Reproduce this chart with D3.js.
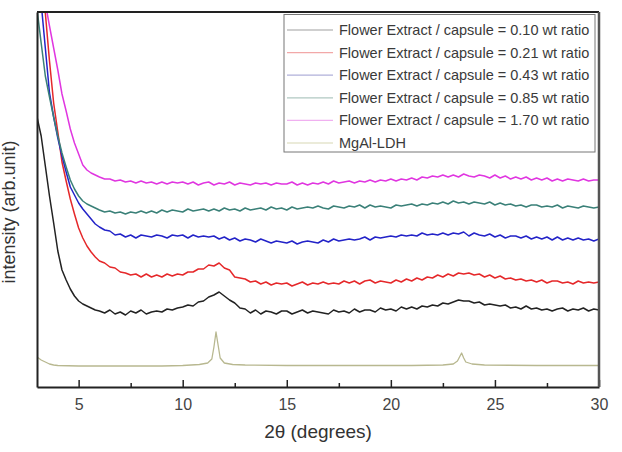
<!DOCTYPE html>
<html><head><meta charset="utf-8">
<script src="https://cdn.jsdelivr.net/npm/d3@7"></script>
<style>body{margin:0;background:#fff}svg{display:block}text{font-family:"Liberation Sans",Arial,sans-serif}</style>
</head><body><svg id="c" width="622" height="452"></svg>
<script>
const twoTheta = [3.0,3.2,3.4,3.6,3.8,4.0,4.2,4.4,4.6,4.8,5.0,5.2,5.4,5.6,5.8,
6,6.25,6.5,6.75,7,7.25,7.5,7.75,8,8.25,8.5,8.75,9,9.25,9.5,9.75,10,10.25,10.5,10.75,
11,11.25,11.5,11.75,12,12.25,12.5,12.75,13,13.25,13.5,13.75,14,14.25,14.5,14.75,
15,15.25,15.5,15.75,16,16.25,16.5,16.75,17,17.25,17.5,17.75,18,18.25,18.5,18.75,
19,19.25,19.5,19.75,20,20.25,20.5,20.75,21,21.25,21.5,21.75,22,22.25,22.5,22.75,
23,23.25,23.5,23.75,24,24.25,24.5,24.75,25,25.25,25.5,25.75,26,26.25,26.5,26.75,
27,27.25,27.5,27.75,28,28.25,28.5,28.75,29,29.25,29.5,29.75,30];

const ratio010 = [270,251,221,191,164,136,117,107,98,91,86,83,81,79,77,
76,74,77,73, 75,72,76,74, 77,73,75,76, 75,78,77,79, 80,82,81,85, 86,90,92,95,
91,87,84,79, 78,74,77,73, 76,75,73,76, 76,73,75,77, 74,76,75,74, 73,77,75,76,
74,78,75,77, 77,75,79,77, 78,76,80,78, 80,78,81,80, 82,81,84,83, 85,87,86,86,
84,85,82,83, 82,81,82,79, 80,78,81,78, 79,77,78,76, 78,79,76,78, 77,79,76,78, 77];

const ratio021 = [420,400,374,326,284,255,225,206,188,173,159,149,141,135,130,
126,124,120,119, 115,114,112,113, 110,113,110,112, 110,113,111,113, 112,115,115,118,
118,122,121,124, 119,117,110,109, 108,105,106,103, 105,102,104,103, 104,101,103,105,
102,104,103,105, 103,104,103,106, 104,106,103,106, 107,104,106,105, 104,107,105,108,
106,109,107,110, 109,112,110,113, 111,114,113,114, 112,113,110,112, 109,111,108,109,
107,108,106,107, 105,107,104,106, 106,104,105,103, 106,104,105,104, 105];

const ratio043 = [429,384,339,294,270,249,231,215,200,192,184,178,173,168,163,
160,157,156,152, 153,150,152,149, 152,151,150,152, 151,149,152,151, 152,149,152,150,
151,150,151,148, 150,147,149,146, 148,147,145,148, 146,144,146,145, 144,146,143,145,
146,145,144,147, 145,148,146,147, 148,147,148,150, 147,150,149,150, 151,150,152,151,
152,151,154,152, 153,152,154,152, 154,153,155,151, 154,152,151,153, 150,152,149,151,
151,149,151,148, 150,148,150,147, 150,147,149,147, 149,147,148,146, 148];

const ratio085 = [378,344,311,290,270,251,234,220,207,198,191,186,183,181,179,
177,175,176,174, 175,173,175,174, 176,174,176,174, 177,175,177,176, 175,178,176,177,
178,176,178,176, 179,177,178,176, 179,177,178,179, 177,180,178,179, 177,180,178,179,
180,179,181,179, 178,181,180,179, 181,180,182,179, 182,180,181,180, 179,182,181,182,
183,181,183,182, 184,183,185,183, 186,184,185,183, 185,184,183,185, 182,184,182,183,
181,182,180,182, 182,180,181,180, 182,179,181,180, 179,181,180,179, 180];

const ratio170 = [429,406,384,361,339,317,293,276,258,244,233,222,217,214,212,
210,208,208,206, 207,205,206,204, 206,204,205,203, 205,203,205,204, 205,203,205,202,
204,205,202,204, 203,205,202,204, 203,202,204,203, 204,202,204,203, 203,205,202,204,
202,204,203,205, 203,206,204,205, 206,204,206,205, 207,205,207,206, 208,206,208,207,
209,207,210,209, 211,210,212,210, 212,210,213,211, 210,212,211,209, 212,209,211,208,
210,208,210,207, 209,207,209,206, 208,206,208,207, 206,208,206,207, 207];

const ldhTheta = [3.0,3.2,3.4,3.6,3.8,4.0,5,7,9,10,10.8,11.2,11.4,11.5,11.6,11.7,11.8,12.0,12.4,13,15,18,21,22.5,23.0,23.2,23.3,23.4,23.5,23.6,23.9,24.5,27,30];
const ldhValues = [30,27,25,23,22,21.5,21,21,21,21.5,22.5,24,28,40,55,42,29,24,22.5,22,21.5,21.5,21.5,22,23,26,30,34,29,25,23,22,21.5,21.5];

const seriesNames = ["Flower Extract / capsule = 0.10 wt ratio","Flower Extract / capsule = 0.21 wt ratio",
"Flower Extract / capsule = 0.43 wt ratio","Flower Extract / capsule = 0.85 wt ratio",
"Flower Extract / capsule = 1.70 wt ratio","MgAl-LDH"];
const seriesColors = ["#222222","#e5282a","#2323c8","#3a8078","#e036e0","#b8b890"];
const legendColors = ["#a0a0a0","#f2a8a8","#b0b0da","#b0c8c2","#f0b0f0","#d8d8b4"];
const majorTicks = [5,10,15,20,25,30];
const minorTicks = [7.5,12.5,17.5,22.5,27.5];

const svg = d3.select("#c");
const L=37,R=599,T=12,B=387;
const x = d3.scaleLinear().domain([3,30]).range([L,R]);
const y = d3.scaleLinear().domain([0,375]).range([B,T]);

svg.append("defs").append("clipPath").attr("id","pc").append("rect")
  .attr("x",L).attr("y",T).attr("width",R-L).attr("height",B-T);

const seriesData = [ratio010,ratio021,ratio043,ratio085,ratio170].map(v=>v.map((d,i)=>[twoTheta[i],d]));
seriesData.push(ldhValues.map((d,i)=>[ldhTheta[i],d]));

const line = d3.line().x(d=>x(d[0])).y(d=>y(d[1]));
const g = svg.append("g").attr("clip-path","url(#pc)");
seriesData.forEach((s,i)=>{
  g.append("path").datum(s).attr("d",line).attr("fill","none")
   .attr("stroke",seriesColors[i]).attr("stroke-width",i===5?1.3:1.5).attr("stroke-linejoin","round");
});

// axes
const ax = svg.append("g").attr("transform",`translate(0,${B})`)
  .call(d3.axisBottom(x).tickValues(majorTicks).tickSizeInner(-7).tickSizeOuter(0).tickPadding(12).tickFormat(d3.format("d")));
ax.select(".domain").attr("stroke","#222").attr("stroke-width",2);
ax.selectAll(".tick line").attr("stroke","#222").attr("stroke-width",1.5);
ax.selectAll("text").attr("font-size",16).attr("fill","#444").attr("font-family","Liberation Sans, Arial, sans-serif");
const axm = svg.append("g").attr("transform",`translate(0,${B})`)
  .call(d3.axisBottom(x).tickValues(minorTicks).tickSizeInner(-4).tickSizeOuter(0).tickFormat(""));
axm.select(".domain").remove();
axm.selectAll(".tick line").attr("stroke","#222").attr("stroke-width",1.5);

const ay = svg.append("g").attr("transform",`translate(${L},0)`)
  .call(d3.axisLeft(y).tickValues([]).tickSizeOuter(0));
ay.select(".domain").attr("stroke","#222").attr("stroke-width",2);

svg.append("line").attr("x1",L).attr("x2",R).attr("y1",T).attr("y2",T).attr("stroke","#222").attr("stroke-width",2);
svg.append("line").attr("x1",R).attr("x2",R).attr("y1",T).attr("y2",B).attr("stroke","#555").attr("stroke-width",2.5);

// legend
const lg = svg.append("g");
lg.append("rect").attr("x",284).attr("y",14.5).attr("width",311).attr("height",137.5)
  .attr("fill","#fff").attr("stroke","#777").attr("stroke-width",1);
seriesNames.forEach((n,i)=>{
  const yy = 30 + i*22.6;
  lg.append("line").attr("x1",287).attr("x2",333).attr("y1",yy).attr("y2",yy)
    .attr("stroke",legendColors[i]).attr("stroke-width",1.2);
  lg.append("text").attr("x",339).attr("y",yy+5).attr("font-size",14.5).attr("fill","#3a3a3a").text(n);
});

svg.append("text").attr("x",318).attr("y",438).attr("text-anchor","middle").attr("font-size",19).attr("fill","#333").text("2θ (degrees)");
svg.append("text").attr("transform","translate(15,212) rotate(-90)").attr("text-anchor","middle").attr("font-size",18).attr("fill","#333").text("intensity (arb.unit)");
</script></body></html>
